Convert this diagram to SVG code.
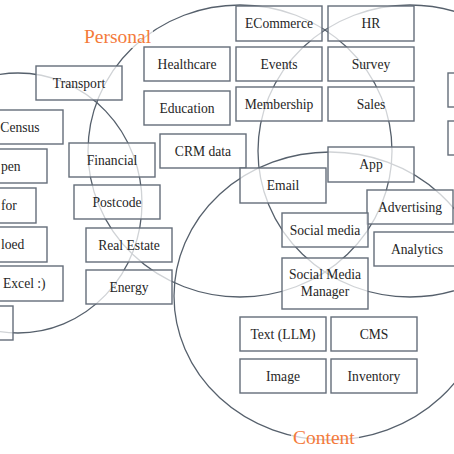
<svg xmlns="http://www.w3.org/2000/svg" width="454" height="454" viewBox="0 0 454 454">
<style>
.set{fill:none;stroke:#56606c;stroke-width:1.3}
.box{fill:#fff;fill-opacity:0.72;stroke:#646d79;stroke-width:1.4}
.t{font-family:"Liberation Serif","Times New Roman",serif;font-size:13.6px;fill:#262626;text-anchor:middle}
.ts{text-anchor:start}
.lbl{font-family:"Liberation Serif","Times New Roman",serif;font-size:19.5px;fill:#f47b3b}
.lbg{fill:#fff;fill-opacity:0.72}
</style>
<rect width="454" height="454" fill="#fff"/>
<g id="sets">
<ellipse class="set" cx="18" cy="203" rx="124" ry="130"/>
<ellipse class="set" cx="240" cy="151" rx="152" ry="146"/>
<ellipse class="set" cx="410" cy="151" rx="152" ry="146"/>
<ellipse class="set" cx="330" cy="296" rx="156" ry="144"/>
</g>
<g id="labels">
<g id="label-personal"><rect class="lbg" x="83" y="26" width="70" height="22"/><text class="lbl" x="84" y="43">Personal</text></g>
<g id="label-content"><rect class="lbg" x="291" y="427" width="68" height="22"/><text class="lbl" x="293" y="444">Content</text></g>
</g>
<g id="connectors"></g>
<g id="n-transport"><rect class="box" x="36" y="66" width="86" height="34"/><text class="t" x="79" y="87.5">Transport</text></g>
<g id="n-healthcare"><rect class="box" x="144" y="47" width="86" height="34"/><text class="t" x="187" y="68.5">Healthcare</text></g>
<g id="n-education"><rect class="box" x="144" y="91" width="86" height="34"/><text class="t" x="187" y="112.5">Education</text></g>
<g id="n-crm"><rect class="box" x="160" y="134" width="86" height="34"/><text class="t" x="203" y="155.5">CRM data</text></g>
<g id="n-ecommerce"><rect class="box" x="236" y="6" width="86" height="35"/><text class="t" x="279" y="28">ECommerce</text></g>
<g id="n-hr"><rect class="box" x="328" y="6" width="86" height="35"/><text class="t" x="371" y="28">HR</text></g>
<g id="n-events"><rect class="box" x="236" y="47" width="86" height="34"/><text class="t" x="279" y="68.5">Events</text></g>
<g id="n-survey"><rect class="box" x="328" y="47" width="86" height="34"/><text class="t" x="371" y="68.5">Survey</text></g>
<g id="n-membership"><rect class="box" x="236" y="87" width="86" height="34"/><text class="t" x="279" y="108.5">Membership</text></g>
<g id="n-sales"><rect class="box" x="328" y="87" width="86" height="34"/><text class="t" x="371" y="108.5">Sales</text></g>
<g id="n-app"><rect class="box" x="328" y="147" width="86" height="35"/><text class="t" x="371" y="169">App</text></g>
<g id="n-email"><rect class="box" x="240" y="168" width="86" height="35"/><text class="t" x="283" y="190">Email</text></g>
<g id="n-advertising"><rect class="box" x="367" y="190" width="86" height="34"/><text class="t" x="410" y="211.5">Advertising</text></g>
<g id="n-socialmedia"><rect class="box" x="282" y="213" width="86" height="34"/><text class="t" x="325" y="234.5">Social media</text></g>
<g id="n-analytics"><rect class="box" x="374" y="232" width="86" height="34"/><text class="t" x="417" y="253.5">Analytics</text></g>
<g id="n-smm"><rect class="box" x="282" y="258" width="86" height="51"/><text class="t" x="325" y="279">Social Media</text><text class="t" x="325" y="296">Manager</text></g>
<g id="n-text"><rect class="box" x="240" y="317" width="86" height="34"/><text class="t" x="283" y="338.5">Text (LLM)</text></g>
<g id="n-cms"><rect class="box" x="331" y="317" width="86" height="34"/><text class="t" x="374" y="338.5">CMS</text></g>
<g id="n-image"><rect class="box" x="240" y="359" width="86" height="34"/><text class="t" x="283" y="380.5">Image</text></g>
<g id="n-inventory"><rect class="box" x="331" y="359" width="86" height="34"/><text class="t" x="374" y="380.5">Inventory</text></g>
<g id="n-financial"><rect class="box" x="69" y="143" width="86" height="34"/><text class="t" x="112" y="164.5">Financial</text></g>
<g id="n-postcode"><rect class="box" x="74" y="185" width="86" height="34"/><text class="t" x="117" y="206.5">Postcode</text></g>
<g id="n-realestate"><rect class="box" x="86" y="228" width="86" height="34"/><text class="t" x="129" y="249.5">Real Estate</text></g>
<g id="n-energy"><rect class="box" x="86" y="270" width="86" height="34"/><text class="t" x="129" y="291.5">Energy</text></g>
<g id="n-census"><rect class="box" x="-23" y="110" width="86" height="34"/><text class="t" x="20" y="131.5">Census</text></g>
<g id="n-open"><rect class="box" x="-39" y="149" width="86" height="34"/><text class="t ts" x="1" y="170.5">pen</text></g>
<g id="n-for"><rect class="box" x="-50" y="188" width="86" height="35"/><text class="t ts" x="1" y="210">for</text></g>
<g id="n-loed"><rect class="box" x="-39" y="227" width="86" height="35"/><text class="t ts" x="1" y="249">loed</text></g>
<g id="n-excel"><rect class="box" x="-23" y="266" width="86" height="35"/><text class="t ts" x="3" y="288">Excel :)</text></g>
<g id="n-left-blank"><rect class="box" x="-73" y="306" width="86" height="34"/></g>
<g id="n-right-1"><rect class="box" x="448" y="73" width="86" height="34"/></g>
<g id="n-right-2"><rect class="box" x="448" y="121" width="86" height="34"/></g>
</svg>
